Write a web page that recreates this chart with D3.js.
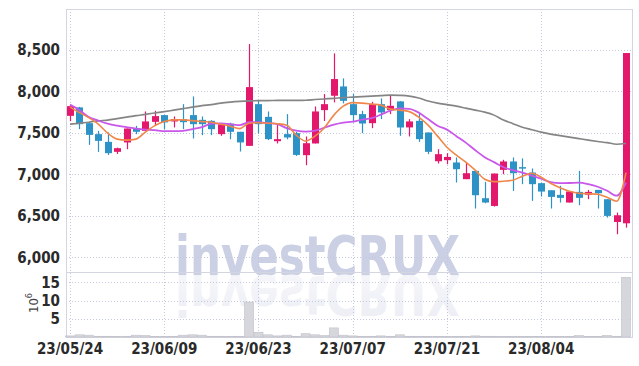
<!DOCTYPE html>
<html>
<head>
<meta charset="utf-8">
<script src="https://cdn.jsdelivr.net/npm/d3@7"></script>
<style>
  body { margin: 0; background: #fff; }
  svg text { font-family: "Liberation Sans Narrow", "DejaVu Sans Condensed", sans-serif; }
</style>
</head>
<body>
<div id="chart"></div>
<script>
// trading days shown (yy/mm/dd)
const dates = [
  "23/05/24","23/05/25","23/05/26","23/05/30","23/05/31","23/06/01","23/06/02","23/06/05","23/06/07","23/06/08",
  "23/06/09","23/06/12","23/06/13","23/06/14","23/06/15","23/06/16","23/06/19","23/06/20","23/06/21","23/06/22",
  "23/06/23","23/06/26","23/06/27","23/06/28","23/06/29","23/06/30","23/07/03","23/07/04","23/07/05","23/07/06",
  "23/07/07","23/07/10","23/07/11","23/07/12","23/07/13","23/07/14","23/07/17","23/07/18","23/07/19","23/07/20",
  "23/07/21","23/07/24","23/07/25","23/07/26","23/07/27","23/07/28","23/07/31","23/08/01","23/08/02","23/08/03",
  "23/08/04","23/08/07","23/08/08","23/08/09","23/08/10","23/08/11","23/08/14","23/08/16","23/08/17","23/08/18"
];
const openP = [
  7702,7804,7614,7482,7389,7269,7382,7551,7522,7630,
  7711,7635,7663,7711,7654,7642,7482,7608,7510,7341,
  7843,7690,7397,7482,7494,7229,7370,7771,7944,8056,
  7843,7723,7614,7843,7771,7876,7563,7642,7502,7156,
  7169,7141,6940,7040,6711,6618,7052,7153,7085,7020,
  6892,6807,6751,6659,6787,6753,6811,6699,6425,6409
];
const highP = [
  7825,7810,7620,7522,7502,7320,7550,7582,7755,7763,
  7715,7695,7843,7936,7695,7650,7602,7620,7510,8566,
  7883,7755,7594,7723,7510,7454,7815,7964,8454,8153,
  7964,7763,7871,7912,7944,7880,7663,7735,7502,7301,
  7253,7201,7141,7040,6907,7008,7173,7201,7190,7069,
  6900,6807,6860,6792,7040,6811,6811,6699,6538,8458
];
const lowP = [
  7638,7542,7353,7268,7232,7244,7301,7482,7522,7582,
  7542,7563,7542,7430,7470,7470,7462,7420,7273,7341,
  7490,7410,7370,7420,7220,7108,7370,7640,7864,7852,
  7623,7494,7554,7663,7723,7462,7454,7389,7241,7129,
  7120,6900,6940,6587,6650,6610,7000,6799,6880,6679,
  6731,6587,6659,6659,6627,6699,6587,6478,6277,6357
];
const closeP = [
  7819,7602,7473,7401,7253,7313,7550,7510,7635,7699,
  7623,7663,7626,7602,7602,7542,7602,7510,7382,8048,
  7602,7422,7422,7442,7232,7373,7755,7843,8145,7883,
  7711,7610,7843,7743,7823,7562,7635,7422,7269,7241,
  7208,7060,7012,6747,6659,7008,7153,7012,7075,6880,
  6791,6727,6715,6792,6715,6787,6771,6498,6506,8458
];
// volume in millions of shares
const volume = [
  0.3,0.6,0.5,0.2,0.2,0.1,0.2,0.5,0.4,0.1,
  0.1,0.2,0.5,0.6,0.5,0.2,0.2,0.1,0.2,9.6,
  1.3,0.6,0.3,0.5,0.2,0.9,0.6,0.4,2.5,0.5,
  0.3,0.2,0.2,0.3,0.2,0.6,0.2,0.2,0.1,0.1,
  0.1,0.2,0.1,0.3,0.2,0.2,0.1,0.2,0.1,0.1,
  0.1,0.1,0.1,0.1,0.4,0.1,0.1,0.4,0.2,16.4
];
// moving averages
const ma5 = [
  7807,7741,7681,7602,7494,7422,7410,7422,7506,7584,
  7633,7654,7654,7645,7633,7626,7602,7578,7548,7614,
  7620,7614,7608,7590,7470,7398,7458,7560,7711,7819,
  7861,7855,7843,7831,7783,7771,7753,7687,7590,7458,
  7325,7229,7145,7048,6940,6910,6916,6928,6976,7012,
  6964,6891,6837,6795,6771,6765,6759,6723,6675,7018
];
const ma20 = [
  7837,7771,7687,7645,7608,7584,7566,7548,7536,7530,
  7518,7518,7522,7542,7566,7608,7611,7602,7590,7626,
  7626,7614,7602,7554,7524,7512,7524,7560,7596,7620,
  7632,7657,7675,7717,7765,7793,7786,7741,7663,7584,
  7536,7458,7380,7289,7205,7145,7084,7048,7018,6982,
  6946,6904,6892,6894,6898,6880,6849,6801,6741,6898
];
const ma60 = [
  7602,7614,7626,7642,7651,7669,7687,7705,7720,7737,
  7753,7771,7789,7807,7825,7837,7855,7867,7876,7882,
  7885,7885,7888,7888,7888,7889,7898,7906,7913,7922,
  7928,7934,7940,7946,7952,7949,7940,7916,7880,7855,
  7837,7819,7795,7771,7747,7711,7651,7608,7566,7536,
  7506,7482,7464,7446,7428,7410,7394,7380,7361,7369
];
const priceTicks = [6000, 6500, 7000, 7500, 8000, 8500];
const volTicks = [5, 10, 15];
const dateTicks = ["23/05/24","23/06/09","23/06/23","23/07/07","23/07/21","23/08/04"];

const W = 639, H = 366;
const frame = { left: 66, right: 632, top: 9, split: 272, bottom: 337 };

const svg = d3.select("#chart").append("svg")
  .attr("width", W).attr("height", H);

const idx = d3.range(dates.length);
const x = d3.scalePoint().domain(idx).range([70, 626]);
const y = d3.scaleLinear().domain([5823, 8988]).range([frame.split, frame.top]);
const yv = d3.scaleLinear().domain([0, 17.86]).range([frame.bottom, frame.split]);

// watermark + faded reflection
const defs = svg.append("defs");
const fade = defs.append("linearGradient").attr("id", "fade")
  .attr("x1", 0).attr("y1", 0).attr("x2", 0).attr("y2", 1);
fade.append("stop").attr("offset", "0%").attr("stop-color", "#ebedf4");
fade.append("stop").attr("offset", "100%").attr("stop-color", "#f8f8fb");

const wmBase = 275;
const wm = svg.append("g")
  .style("font-family", "'DejaVu Sans', sans-serif")
  .style("font-weight", "bold").style("font-size", "56px");
wm.append("text")
  .attr("x", 175).attr("y", wmBase)
  .attr("textLength", 285).attr("lengthAdjust", "spacingAndGlyphs")
  .attr("fill", "#cbd0e5")
  .text("investCRUX");
wm.append("text")
  .attr("x", 175).attr("y", wmBase)
  .attr("transform", `translate(0,${2 * wmBase + 1}) scale(1,-1)`)
  .attr("textLength", 285).attr("lengthAdjust", "spacingAndGlyphs")
  .attr("fill", "url(#fade)")
  .text("investCRUX");

// grid
const grid = svg.append("g")
  .attr("stroke", "#c4c8dc").attr("stroke-width", 1).attr("stroke-dasharray", "1,2");
grid.selectAll(".hp").data(priceTicks).join("line")
  .attr("x1", frame.left).attr("x2", frame.right)
  .attr("y1", d => Math.round(y(d)) + 0.5).attr("y2", d => Math.round(y(d)) + 0.5);
grid.selectAll(".hv").data(volTicks).join("line")
  .attr("x1", frame.left).attr("x2", frame.right)
  .attr("y1", d => Math.round(yv(d)) + 0.5).attr("y2", d => Math.round(yv(d)) + 0.5);
grid.selectAll(".vx").data(dateTicks).join("line")
  .attr("x1", d => Math.round(x(dates.indexOf(d))) + 0.5)
  .attr("x2", d => Math.round(x(dates.indexOf(d))) + 0.5)
  .attr("y1", frame.top).attr("y2", frame.bottom);

// frame
svg.append("rect")
  .attr("x", frame.left + 0.5).attr("y", frame.top + 0.5)
  .attr("width", frame.right - frame.left).attr("height", frame.bottom - frame.top)
  .attr("fill", "none").attr("stroke", "#d3d5e0");
svg.append("line")
  .attr("x1", frame.left).attr("x2", frame.right)
  .attr("y1", frame.split + 0.5).attr("y2", frame.split + 0.5)
  .attr("stroke", "#d3d5e0");

// volume bars
svg.append("g").selectAll("rect").data(volume).join("rect")
  .attr("x", (d, i) => x(i) - 4.5)
  .attr("width", 9)
  .attr("y", d => yv(d))
  .attr("height", d => yv(0) - yv(d))
  .attr("fill", "#d6d7dd").attr("stroke", "#bfc0c8").attr("stroke-width", 0.6);

// candles (red up / blue down)
const up = i => closeP[i] >= openP[i];
const candle = svg.append("g").selectAll("g").data(idx).join("g")
  .attr("fill", i => up(i) ? "#e3186c" : "#2d93c6")
  .attr("stroke", i => up(i) ? "#e3186c" : "#2d93c6");
candle.append("line")
  .attr("x1", i => Math.round(x(i)) + 0.5).attr("x2", i => Math.round(x(i)) + 0.5)
  .attr("y1", i => y(highP[i])).attr("y2", i => y(lowP[i]))
  .attr("stroke-width", 1.2);
candle.append("rect")
  .attr("x", i => Math.round(x(i)) - 3)
  .attr("width", 7)
  .attr("y", i => y(Math.max(openP[i], closeP[i])))
  .attr("height", i => Math.max(1.5, Math.abs(y(openP[i]) - y(closeP[i]))))
  .attr("stroke", "none");

// moving averages
const line = d3.line().x((d, i) => x(i)).y(d => y(d)).curve(d3.curveMonotoneX);
[[ma60, "#858585", 1.6], [ma20, "#c957ea", 1.8], [ma5, "#f0874a", 1.6]].forEach(([s, c, w]) => {
  svg.append("path").datum(s).attr("d", line)
    .attr("fill", "none").attr("stroke", c).attr("stroke-width", w)
    .attr("stroke-linejoin", "round");
});

// axis labels
const lab = svg.append("g").attr("font-size", "15px").attr("font-weight", "bold").attr("fill", "#2a2a2a");
lab.selectAll(".pt").data(priceTicks).join("text")
  .attr("x", 60).attr("y", d => y(d) + 5.5)
  .attr("text-anchor", "end")
  .text(d3.format(","));
lab.selectAll(".vt").data(volTicks).join("text")
  .attr("x", 60).attr("y", d => yv(d) + 5.5)
  .attr("text-anchor", "end")
  .text(d => d);
lab.selectAll(".dt").data(dateTicks).join("text")
  .attr("x", d => x(dates.indexOf(d)))
  .attr("y", 354)
  .attr("text-anchor", "middle")
  .text(d => d);

const unit = svg.append("text")
  .attr("transform", "translate(38,303) rotate(-90)")
  .attr("text-anchor", "middle").attr("font-size", "13px").attr("fill", "#444");
unit.append("tspan").text("10");
unit.append("tspan").attr("dy", -6).attr("font-size", "9px").text("6");
</script>
</body>
</html>
